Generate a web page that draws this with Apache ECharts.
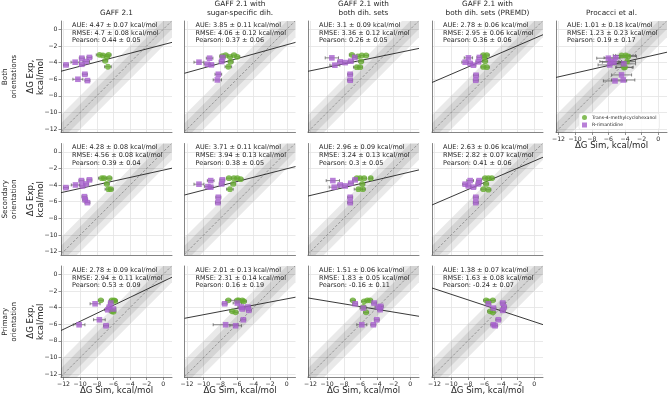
<!DOCTYPE html>
<html>
<head>
<meta charset="utf-8">
<script src="https://cdn.jsdelivr.net/npm/echarts@6.0.0/dist/echarts.min.js"></script>
<style>
html, body { margin: 0; padding: 0; background: #fff; }
#chart { width: 668px; height: 395px; }
</style>
</head>
<body>
<div id="chart"></div>
<script>
// column / row headings
const colTitles = ['GAFF 2.1', 'GAFF 2.1 with\nsugar-specific dih.', 'GAFF 2.1 with\nboth dih. sets',
  'GAFF 2.1 with\nboth dih. sets (PREMD)', 'Procacci et al.'];
const rowLabels = ['Both\norientations', 'Secondary\norientation', 'Primary\norientation'];
const tickValues = [-12, -10, -8, -6, -4, -2, 0];
const bandOffsets = [2, 1];

// panels in reading order: [row, col]
const panelRC = [[0,0],[0,1],[0,2],[0,3],[0,4],[1,0],[1,1],[1,2],[1,3],[2,0],[2,1],[2,2],[2,3]];

// AUE, RMSE, Pearson per panel
const aue = ['4.47 ± 0.07','3.85 ± 0.11','3.1 ± 0.09','2.78 ± 0.06','1.01 ± 0.18',
  '4.28 ± 0.08','3.71 ± 0.11','2.96 ± 0.09','2.63 ± 0.06',
  '2.78 ± 0.09','2.01 ± 0.13','1.51 ± 0.06','1.38 ± 0.07'];
const rmse = ['4.7 ± 0.08','4.06 ± 0.12','3.36 ± 0.12','2.95 ± 0.06','1.23 ± 0.23',
  '4.56 ± 0.08','3.94 ± 0.13','3.24 ± 0.13','2.82 ± 0.07',
  '2.94 ± 0.11','2.31 ± 0.14','1.83 ± 0.05','1.63 ± 0.08'];
const pearson = ['0.44 ± 0.05','0.37 ± 0.06','0.26 ± 0.05','0.36 ± 0.06','0.19 ± 0.17',
  '0.39 ± 0.04','0.38 ± 0.05','0.3 ± 0.05','0.41 ± 0.06',
  '0.53 ± 0.09','0.16 ± 0.19','-0.16 ± 0.11','-0.24 ± 0.07'];

// regression line per panel
const fitSlope = [0.26, 0.278, 0.206, 0.43, 0.227, 0.22, 0.256, 0.235, 0.43, 0.48, 0.19, -0.165, -0.33];
const fitIntercept = [-1.84, -1.86, -2.51, -1.1, -2.99, -2.2, -2.04, -2.42, -1.1, -0.85, -2.95, -4.87, -5.7];

// [sim, exp, sim error] per panel
const transPts = [
  [[-7.66,-3.07,0.4],[-7.26,-3.14,0.3],[-6.78,-3.26,0.3],[-6.58,-3.07,0.3],[-6.98,-3.79,0.3],[-6.66,-4.5,0.4]],
  [[-7.75,-3.22,0.3],[-7.35,-3.1,0.3],[-6.83,-3.3,0.3],[-6.35,-3.1,0.3],[-5.95,-3.3,0.3],[-6.75,-3.9,0.3],[-7.03,-4.5,0.4]],
  [[-7.03,-3.07,0.3],[-6.31,-3.26,0.3],[-5.83,-3.14,0.3],[-5.31,-3.14,0.3],[-5.91,-3.86,0.3],[-6.43,-4.55,0.4],[-6.03,-4.55,0.3]],
  [[-6.12,-3.1,0.3],[-5.71,-3.1,0.3],[-6.03,-3.38,0.3],[-5.91,-3.83,0.3],[-6.12,-4.52,0.3],[-5.71,-4.55,0.3]],
  [[-4.41,-3.14,1.0],[-3.93,-3.14,1.2],[-3.62,-3.26,1.0],[-3.74,-3.86,1.0],[-4.01,-4.55,1.0],[-4.13,-4.59,1.0]],
  [[-7.39,-3.17,0.4],[-7.11,-3.17,0.3],[-6.48,-3.17,0.3],[-6.79,-3.86,0.3],[-6.6,-4.49,0.4],[-6.31,-4.49,0.3]],
  [[-6.96,-3.17,0.3],[-6.36,-3.17,0.3],[-5.95,-3.17,0.3],[-5.55,-3.29,0.3],[-6.43,-3.86,0.3],[-6.84,-4.49,0.4]],
  [[-6.43,-3.17,0.3],[-6.03,-3.17,0.3],[-5.55,-3.17,0.3],[-4.75,-3.17,0.2],[-5.76,-3.86,0.3],[-6.24,-4.49,0.5],[-5.71,-4.49,0.3]],
  [[-5.91,-3.17,0.3],[-5.52,-3.17,0.3],[-5.11,-3.17,0.3],[-5.79,-3.86,0.3],[-6.12,-4.49,0.3],[-5.52,-4.55,0.3]],
  [[-7.51,-3.13,0.3],[-6.19,-3.13,0.3],[-5.91,-3.13,0.3],[-5.8,-3.2,0.3],[-6.19,-4.45,0.3],[-6.0,-4.5,0.3]],
  [[-7.03,-3.13,0.3],[-5.95,-3.13,0.8],[-5.76,-3.13,0.5],[-5.35,-3.13,0.3],[-5.16,-3.25,0.3],[-6.55,-4.45,0.3],[-6.15,-4.57,0.3]],
  [[-6.91,-3.13,0.3],[-5.55,-3.25,0.3],[-5.16,-3.13,0.3],[-4.83,-3.13,0.3],[-5.64,-3.93,0.3],[-5.31,-4.57,0.3]],
  [[-5.79,-3.13,0.3],[-4.99,-3.13,0.3],[-5.52,-3.25,0.3],[-5.31,-4.45,0.3],[-4.99,-4.57,0.3]]
];
const rimPts = [
  [[-11.7,-4.28,0.3],[-10.6,-3.95,0.5],[-9.8,-3.47,0.3],[-9.8,-4.2,0.3],[-9.27,-3.87,0.4],[-8.88,-3.38,0.3],[-9.43,-5.4,0.3],[-10.27,-6.0,0.6],[-9.12,-6.16,0.3]],
  [[-10.56,-3.95,0.6],[-9.28,-3.47,0.4],[-9.55,-4.19,0.4],[-9.07,-4.27,0.3],[-7.83,-3.87,0.3],[-7.71,-3.38,0.3],[-8.23,-5.4,0.4],[-8.35,-6.08,0.5]],
  [[-9.43,-3.43,0.8],[-9.07,-4.31,0.6],[-8.43,-3.91,0.3],[-7.83,-4.0,0.3],[-7.15,-3.83,0.3],[-6.67,-3.38,0.3],[-7.23,-5.4,0.3],[-7.23,-6.12,0.3]],
  [[-7.92,-3.43,0.5],[-8.31,-3.95,0.4],[-7.71,-4.1,0.3],[-7.32,-4.31,0.3],[-6.6,-3.38,0.3],[-6.72,-3.91,0.3],[-7.0,-5.52,0.3],[-7.03,-6.12,0.3]],
  [[-6.0,-3.47,1.4],[-5.12,-3.42,1.4],[-5.33,-3.95,1.4],[-5.84,-4.28,1.4],[-5.72,-3.87,1.3],[-4.13,-4.15,1.4],[-4.41,-5.48,1.2],[-5.2,-6.2,1.4],[-4.22,-6.09,1.4]],
  [[-11.71,-4.3,0.3],[-10.56,-3.98,0.5],[-9.84,-3.46,0.3],[-9.72,-4.1,0.3],[-9.27,-3.86,0.3],[-8.88,-3.37,0.3],[-9.48,-5.39,0.3],[-9.39,-5.78,0.3],[-9.12,-6.11,0.3]],
  [[-10.56,-3.89,0.6],[-9.15,-3.46,0.4],[-9.48,-4.18,0.4],[-9.15,-4.25,0.3],[-7.83,-3.86,0.3],[-7.75,-3.37,0.3],[-8.23,-5.46,0.3],[-8.28,-6.11,0.3]],
  [[-9.31,-3.46,0.8],[-9.15,-4.25,0.6],[-8.43,-3.98,0.3],[-7.83,-4.1,0.3],[-7.15,-3.77,0.3],[-6.63,-3.37,0.3],[-7.23,-5.46,0.3],[-7.23,-6.11,0.3]],
  [[-7.71,-3.46,0.4],[-8.31,-3.89,0.3],[-7.92,-4.1,0.3],[-7.32,-4.25,0.3],[-6.63,-3.46,0.3],[-6.72,-3.86,0.3],[-7.03,-5.46,0.3],[-7.03,-6.11,0.3]],
  [[-10.12,-6.06,0.7],[-8.2,-3.54,0.6],[-7.68,-5.46,0.7],[-6.88,-6.18,0.3],[-6.67,-4.26,0.4],[-6.48,-3.93,0.3],[-6.31,-3.45,0.3],[-6.0,-4.17,0.3]],
  [[-7.47,-3.54,0.3],[-7.35,-6.06,1.5],[-6.15,-6.18,0.7],[-5.95,-3.45,0.5],[-5.47,-3.93,0.4],[-5.35,-4.17,0.3],[-5.23,-5.46,0.3],[-4.68,-3.93,0.3],[-4.56,-4.33,0.3]],
  [[-6.63,-3.54,0.3],[-5.64,-4.06,0.4],[-5.83,-6.06,0.6],[-4.44,-6.06,0.3],[-4.35,-3.45,0.3],[-4.03,-5.46,0.3],[-3.84,-3.93,0.4],[-3.63,-4.25,0.3],[-3.55,-3.85,0.3]],
  [[-5.52,-3.54,0.3],[-4.92,-4.06,0.3],[-3.79,-3.45,0.3],[-3.63,-3.93,0.3],[-3.79,-4.33,0.3],[-4.32,-5.46,0.3],[-4.92,-6.06,0.3],[-4.71,-6.18,0.3]]
];

const chart = echarts.init(document.getElementById('chart'));

const xMin = -12.3, xMax = 1.05, yMin = -12.4, yMax = 1.0;
const colLeft = [61, 184.5, 308, 432, 556];
const rowTop = [21, 143.5, 266];
const panelW = 111, panelH = 111.5;
const green = '#66ad30', purple = '#a65fcd';
const textCol = '#262626';
const fontFam = 'DejaVu Sans';

const fmt = v => (v < 0 ? '\u2212' + Math.abs(v) : String(v));

// clip a polygon (data space) to the axis rectangle
function clipPoly(poly) {
  const edges = [
    p => p[0] >= xMin, p => p[0] <= xMax, p => p[1] >= yMin, p => p[1] <= yMax
  ];
  const cut = [
    (a, b) => { const t = (xMin - a[0]) / (b[0] - a[0]); return [xMin, a[1] + t * (b[1] - a[1])]; },
    (a, b) => { const t = (xMax - a[0]) / (b[0] - a[0]); return [xMax, a[1] + t * (b[1] - a[1])]; },
    (a, b) => { const t = (yMin - a[1]) / (b[1] - a[1]); return [a[0] + t * (b[0] - a[0]), yMin]; },
    (a, b) => { const t = (yMax - a[1]) / (b[1] - a[1]); return [a[0] + t * (b[0] - a[0]), yMax]; }
  ];
  let out = poly;
  for (let e = 0; e < 4; e++) {
    const inp = out; out = [];
    for (let i = 0; i < inp.length; i++) {
      const cur = inp[i], prev = inp[(i + inp.length - 1) % inp.length];
      if (edges[e](cur)) {
        if (!edges[e](prev)) out.push(cut[e](prev, cur));
        out.push(cur);
      } else if (edges[e](prev)) {
        out.push(cut[e](prev, cur));
      }
    }
  }
  return out;
}

function bandItem(params, api) {
  const o = api.value(0);
  const poly = clipPoly([[xMin - 5, xMin - 5 - o], [xMax + 5, xMax + 5 - o], [xMax + 5, xMax + 5 + o], [xMin - 5, xMin - 5 + o]]);
  return {
    type: 'polygon',
    shape: { points: poly.map(p => api.coord(p)) },
    style: { fill: 'rgba(0,0,0,0.085)' }
  };
}

function errItem(params, api) {
  const x = api.value(0), y = api.value(1), e = api.value(2);
  const a = api.coord([x - e, y]), b = api.coord([x + e, y]);
  const st = { stroke: '#555', lineWidth: 0.7 };
  return {
    type: 'group',
    children: [
      { type: 'line', shape: { x1: a[0], y1: a[1], x2: b[0], y2: b[1] }, style: st },
      { type: 'line', shape: { x1: a[0], y1: a[1] - 1.5, x2: a[0], y2: a[1] + 1.5 }, style: st },
      { type: 'line', shape: { x1: b[0], y1: b[1] - 1.5, x2: b[0], y2: b[1] + 1.5 }, style: st }
    ]
  };
}

const grids = [], xAxes = [], yAxes = [], series = [], graphics = [];

panelRC.forEach(([r, c], i) => {
  const left = colLeft[c], top = rowTop[r];
  const showX = r === 2 || (r === 0 && c === 4);
  const showY = c === 0;
  grids.push({ left: left, top: top, width: panelW, height: panelH, containLabel: false, outerBoundsMode: 'none' });
  const axLine = { show: true, onZero: false, lineStyle: { color: '#666', width: 0.8 } };
  xAxes.push({
    type: 'value', gridIndex: i, min: xMin, max: xMax,
    axisLine: axLine,
    axisTick: { show: showX, customValues: tickValues, length: 2.5, lineStyle: { color: '#666', width: 0.7 } },
    axisLabel: { show: showX, customValues: tickValues, formatter: fmt, fontSize: 6.2, color: textCol, margin: 3.5, fontFamily: fontFam },
    splitLine: { show: true, lineStyle: { color: '#e3e3e3', width: 0.8 } }
  });
  yAxes.push({
    type: 'value', gridIndex: i, min: yMin, max: yMax,
    axisLine: axLine,
    axisTick: { show: showY, customValues: tickValues, length: 2.5, lineStyle: { color: '#666', width: 0.7 } },
    axisLabel: { show: showY, customValues: tickValues, formatter: fmt, fontSize: 6.2, color: textCol, margin: 3.5, fontFamily: fontFam },
    splitLine: { show: true, lineStyle: { color: '#e3e3e3', width: 0.8 } }
  });

  const ax = { xAxisIndex: i, yAxisIndex: i };
  series.push(Object.assign({
    type: 'custom', renderItem: bandItem, data: bandOffsets.map(o => [o]), silent: true, z: 1
  }, ax));
  const lo = Math.max(xMin, yMin), hi = Math.min(xMax, yMax);
  series.push(Object.assign({
    type: 'line', data: [[lo, lo], [hi, hi]], symbol: 'none', silent: true, z: 2,
    lineStyle: { color: '#777', width: 0.7, type: [2.5, 1.8] }
  }, ax));
  const a = fitSlope[i], b = fitIntercept[i];
  series.push(Object.assign({
    type: 'line', data: [[xMin, a * xMin + b], [xMax, a * xMax + b]], symbol: 'none', silent: true, z: 3, clip: true,
    lineStyle: { color: '#222', width: 0.9 }
  }, ax));
  series.push(Object.assign({ type: 'custom', renderItem: errItem, data: transPts[i], silent: true, z: 4 }, ax));
  series.push(Object.assign({ type: 'custom', renderItem: errItem, data: rimPts[i], silent: true, z: 4 }, ax));
  series.push(Object.assign({
    type: 'scatter', name: 'Trans-4-methylcyclohexanol', data: transPts[i].map(p => [p[0], p[1]]),
    symbol: 'circle', symbolSize: 5.8, itemStyle: { color: green }, z: 5
  }, ax));
  series.push(Object.assign({
    type: 'scatter', name: 'R-rimantidine', data: rimPts[i].map(p => [p[0], p[1]]),
    symbol: 'rect', symbolSize: 5.6, itemStyle: { color: purple }, z: 5
  }, ax));

  // stats box
  graphics.push({
    type: 'text', left: left + 11, top: top + 0.5, z: 10,
    style: {
      text: 'AUE: ' + aue[i] + ' kcal/mol\nRMSE: ' + rmse[i] + ' kcal/mol\nPearson: ' + pearson[i],
      fontSize: 6.5, lineHeight: 7.6, fill: textCol, fontFamily: fontFam
    }
  });
  if (showX) {
    graphics.push({
      type: 'text', x: left + panelW / 2, y: top + panelH + 12.8, z: 10,
      style: { text: '\u0394G Sim, kcal/mol', fontSize: 8.6, fill: textCol, fontFamily: fontFam, align: 'center', verticalAlign: 'middle' }
    });
  }
});

colTitles.forEach((t, c) => {
  graphics.push({
    type: 'text', x: colLeft[c] + panelW / 2, y: 17.3,
    style: { text: t, fontSize: 7.3, lineHeight: 9, fill: textCol, fontFamily: fontFam, align: 'center', verticalAlign: 'bottom' }
  });
});
rowLabels.forEach((t, r) => {
  const cy = rowTop[r] + panelH / 2;
  graphics.push({
    type: 'text', x: 9.5, y: cy, rotation: Math.PI / 2,
    style: { text: t, fontSize: 7.3, lineHeight: 8.5, fill: textCol, fontFamily: fontFam, align: 'center', verticalAlign: 'middle' }
  });
  graphics.push({
    type: 'text', x: 36, y: cy, rotation: Math.PI / 2,
    style: { text: '\u0394G Exp,\nkcal/mol', fontSize: 8.6, lineHeight: 9.5, fill: textCol, fontFamily: fontFam, align: 'center', verticalAlign: 'middle' }
  });
});

chart.setOption({
  animation: false,
  backgroundColor: '#fff',
  textStyle: { fontFamily: fontFam },
  grid: grids,
  xAxis: xAxes,
  yAxis: yAxes,
  series: series,
  graphic: graphics,
  legend: {
    left: 579, top: 113, orient: 'vertical',
    data: [{ name: 'Trans-4-methylcyclohexanol', icon: 'circle' }, { name: 'R-rimantidine', icon: 'rect' }],
    itemWidth: 5, itemHeight: 5, itemGap: 2.5, padding: [2, 3],
    backgroundColor: 'rgba(255,255,255,0.85)', borderColor: '#ddd', borderWidth: 0.5, borderRadius: 2,
    textStyle: { fontSize: 4.6, color: textCol, fontFamily: fontFam }
  }
});
</script>
</body>
</html>
